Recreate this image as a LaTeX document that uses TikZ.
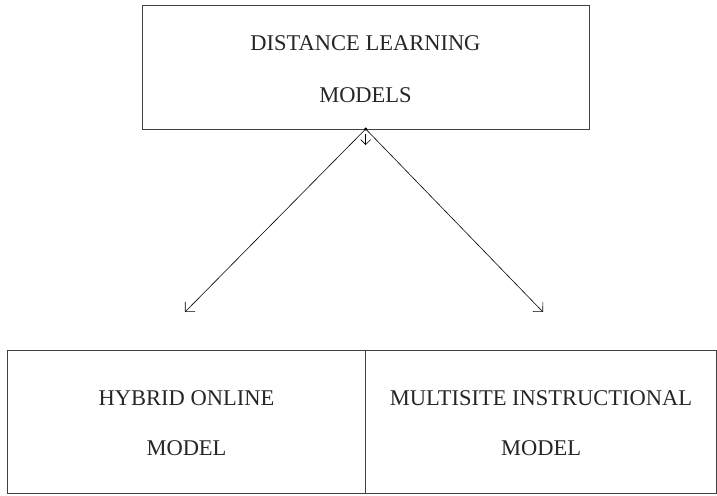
\documentclass[tikz,border=0pt]{standalone}
\usepackage{fontspec}
\setmainfont{Liberation Serif}
\usetikzlibrary{arrows.meta}
\begin{document}
\begin{tikzpicture}[x=1pt,y=-1pt,
  boxframe/.style={draw=black!75, line width=1pt, inner sep=0pt},
  lbl/.style={anchor=base, inner sep=0pt, font=\fontsize{22.5}{26}\selectfont, text=black!85},
  conn/.style={draw=black, line width=0.6pt, -{Straight Barb[length=7pt,width=14pt]}}]
\useasboundingbox (0,0) rectangle (717,495);
% top box
\node[boxframe, minimum width=447pt, minimum height=123.5pt] (top) at (365.5,67.25) {};
\node[lbl] (t1) at (365.5,50.5) {DISTANCE LEARNING};
\node[lbl] (t2) at (365.5,102.5) {MODELS};
% bottom boxes
\node[boxframe, minimum width=358pt, minimum height=142.5pt] (left) at (186.5,421.75) {};
\node[boxframe, minimum width=351pt, minimum height=142.5pt] (right) at (541,421.75) {};
\node[lbl] (l1) at (186.5,405.5) {HYBRID ONLINE};
\node[lbl] (l2) at (186.5,455.5) {MODEL};
\node[lbl] (r1) at (541,405.5) {MULTISITE INSTRUCTIONAL};
\node[lbl] (r2) at (541,455.5) {MODEL};
% connectors
\coordinate (src) at (365.7,129);
\coordinate (ltip) at (185,312);
\coordinate (rtip) at (543,312);
\coordinate (dtop) at (365.7,134);
\coordinate (dtip) at (365.7,145);
\fill (src) circle (1.6pt);
\draw[conn] (src) -- (ltip);
\draw[conn] (src) -- (rtip);
\draw[conn, -{Straight Barb[length=5pt,width=10pt]}] (dtop) -- (dtip);
\end{tikzpicture}
\end{document}
